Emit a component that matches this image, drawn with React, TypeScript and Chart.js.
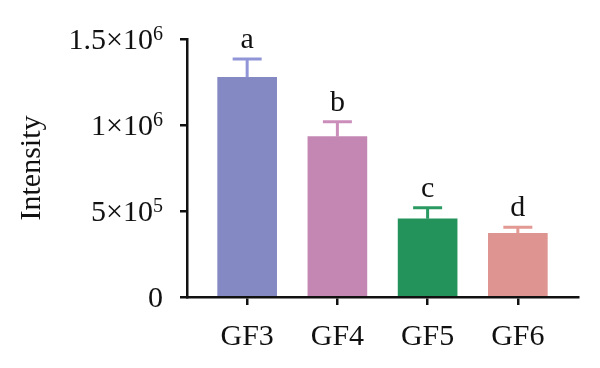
import React, { useEffect, useRef } from "react";
import { Chart, registerables } from "chart.js";

Chart.register(...registerables);

const categories = ["GF3", "GF4", "GF5", "GF6"];
const values = [1277000, 932000, 455000, 370000];
const errors = [107000, 87000, 64000, 35000];
const letters = ["a", "b", "c", "d"];
const barColors = ["#8489c3", "#c487b4", "#23935b", "#de9591"];
const errColors = ["#9095d8", "#cb8ebb", "#2a9a62", "#e39a95"];
const yTickValues = [0, 500000, 1000000, 1500000];
const yTickBase = ["0", "5×10", "1×10", "1.5×10"];
const yTickExp = ["", "5", "6", "6"];

const FONT = "'Liberation Serif', 'Times New Roman', serif";

export default function App() {
  const ref = useRef<HTMLCanvasElement | null>(null);

  useEffect(() => {
    if (!ref.current) return;

    const overlay = {
      id: "errorsAndLetters",
      afterDatasetsDraw(chart: any) {
        const ctx = chart.ctx;
        const xs = chart.scales.x;
        const ys = chart.scales.y;
        ctx.save();
        values.forEach((v, i) => {
          const x = xs.getPixelForValue(i);
          const yTop = ys.getPixelForValue(v);
          const yErr = ys.getPixelForValue(v + errors[i]);
          ctx.strokeStyle = errColors[i];
          ctx.lineWidth = 3;
          ctx.beginPath();
          ctx.moveTo(x, yTop);
          ctx.lineTo(x, yErr);
          ctx.moveTo(x - 14.5, yErr);
          ctx.lineTo(x + 14.5, yErr);
          ctx.stroke();
          ctx.fillStyle = "#111";
          ctx.font = `30px ${FONT}`;
          ctx.textAlign = "center";
          ctx.textBaseline = "alphabetic";
          ctx.fillText(letters[i], x, yErr - 11);
        });
        // y tick labels with superscript exponents
        const right = ys.right - 7 - 17;
        ctx.fillStyle = "#111";
        ctx.textBaseline = "alphabetic";
        ctx.textAlign = "left";
        yTickValues.forEach((tv, i) => {
          const y = ys.getPixelForValue(tv);
          ctx.font = `20px ${FONT}`;
          const supW = yTickExp[i] ? ctx.measureText(yTickExp[i]).width : 0;
          ctx.font = `30px ${FONT}`;
          const baseW = ctx.measureText(yTickBase[i]).width;
          const x0 = right - supW - baseW;
          ctx.fillText(yTickBase[i], x0, y + 10);
          if (yTickExp[i]) {
            ctx.font = `20px ${FONT}`;
            ctx.fillText(yTickExp[i], x0 + baseW, y + 1);
          }
        });
        ctx.restore();
      },
    };

    const chart = new Chart(ref.current, {
      type: "bar",
      data: {
        datasets: [
          {
            data: values.map((v, i) => ({ x: i, y: v })),
            backgroundColor: barColors,
            borderWidth: 0,
            barThickness: 59,
          },
        ],
      },
      options: {
        animation: false,
        responsive: true,
        maintainAspectRatio: false,
        layout: { padding: { top: 39, right: 22, left: 0, bottom: 0 } },
        plugins: {
          legend: { display: false },
          tooltip: { enabled: false },
        },
        scales: {
          x: {
            type: "linear",
            offset: false,
            min: -0.6667,
            max: 3.6667,
            afterBuildTicks: (scale: any) => {
              scale.ticks = categories.map((_, i) => ({ value: i }));
            },
            afterFit: (scale: any) => {
              scale.height = 71;
            },
            ticks: {
              callback: (v: any) => categories[v as number] ?? "",
              color: "#111",
              font: { family: FONT, size: 30 },
              padding: 14,
              maxRotation: 0,
              autoSkip: false,
            },
            grid: {
              offset: false,
              drawOnChartArea: false,
              drawTicks: true,
              tickLength: 8,
              color: "#111",
              lineWidth: 2.5,
            },
            border: { display: true, color: "#111", width: 2.5 },
          },
          y: {
            min: 0,
            max: 1500000,
            afterBuildTicks: (scale: any) => {
              scale.ticks = yTickValues.map((v) => ({ value: v }));
            },
            afterFit: (scale: any) => {
              scale.width = 187;
            },
            ticks: {
              display: false,
            },
            grid: {
              drawOnChartArea: false,
              drawTicks: true,
              tickLength: 7,
              color: "#111",
              lineWidth: 2.5,
            },
            border: { display: true, color: "#111", width: 2.5 },
            title: {
              display: true,
              text: "Intensity",
              color: "#111",
              font: { family: FONT, size: 30 },
              padding: { top: 14, bottom: 0 },
            },
          },
        },
      },
      plugins: [overlay],
    });

    return () => chart.destroy();
  }, []);

  return (
    <div style={{ position: "fixed", left: 0, top: 0, width: 600, height: 368, background: "#fff" }}>
      <canvas ref={ref} />
    </div>
  );
}
